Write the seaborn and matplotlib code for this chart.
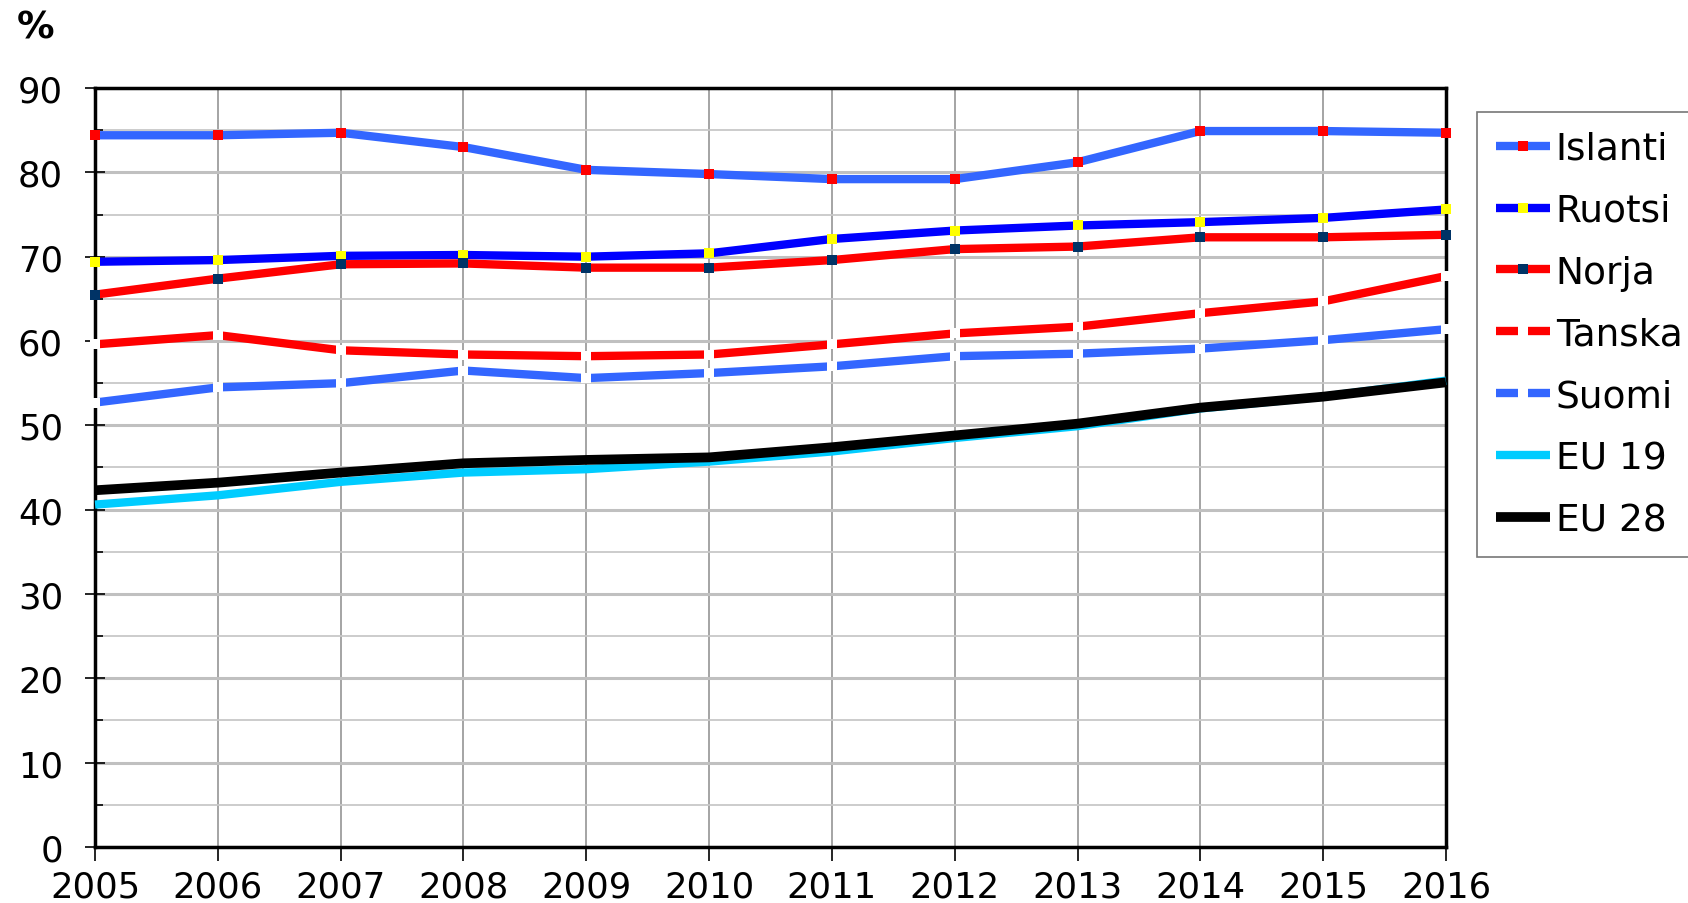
import numpy as np
import pandas as pd
import seaborn as sns
import matplotlib.pyplot as plt
from matplotlib.ticker import MultipleLocator

years = list(range(2005, 2017))

islanti = [84.4, 84.4, 84.7, 83.0, 80.3, 79.8, 79.2, 79.2, 81.2, 84.9, 84.9, 84.7]
ruotsi = [69.4, 69.6, 70.1, 70.2, 70.0, 70.4, 72.1, 73.1, 73.7, 74.1, 74.6, 75.6]
norja = [65.5, 67.4, 69.1, 69.2, 68.7, 68.7, 69.6, 70.9, 71.2, 72.3, 72.3, 72.6]
tanska = [59.6, 60.7, 58.9, 58.4, 58.2, 58.4, 59.6, 60.9, 61.7, 63.3, 64.7, 67.7]
suomi = [52.7, 54.5, 55.0, 56.5, 55.6, 56.2, 57.0, 58.2, 58.5, 59.1, 60.1, 61.4]
eu19 = [40.6, 41.7, 43.3, 44.4, 44.8, 45.7, 46.9, 48.5, 49.9, 52.0, 53.4, 55.3]
eu28 = [42.3, 43.2, 44.4, 45.5, 45.9, 46.2, 47.4, 48.8, 50.2, 52.1, 53.4, 55.1]

labels = ["Islanti", "Ruotsi", "Norja", "Tanska", "Suomi", "EU 19", "EU 28"]
values = [islanti, ruotsi, norja, tanska, suomi, eu19, eu28]

# line colour, marker colour (None = no marker), line width
styles = {
    "Islanti": ("#3366ff", "#ff0000", 6),
    "Ruotsi": ("#0000ff", "#ffff00", 6),
    "Norja": ("#ff0000", "#003366", 6),
    "Tanska": ("#ff0000", "#ffffff", 6),
    "Suomi": ("#3366ff", "#ffffff", 6),
    "EU 19": ("#00ccff", None, 6),
    "EU 28": ("#000000", None, 7),
}

sns.set_style("white")
plt.rcParams['font.family'] = ['DejaVu Sans']
plt.rcParams['text.color'] = 'black'
plt.rcParams['xtick.color'] = 'black'
plt.rcParams['ytick.color'] = 'black'

fig = plt.figure(figsize=(16.88, 9.04), dpi=100)
ax = fig.add_axes([0.0563, 0.062, 0.8003, 0.8395])

for lab, vals in zip(labels, values):
    line_col, mk_col, lw = styles[lab]
    kw = dict(color=line_col, linewidth=lw, solid_capstyle='butt', clip_on=False, zorder=3)
    if mk_col is not None:
        kw.update(marker='s', markersize=7, markerfacecolor=mk_col,
                  markeredgecolor=mk_col, markeredgewidth=0)
    sns.lineplot(x=years, y=vals, ax=ax, label=lab, **kw)

ax.set_xlim(2005, 2016)
ax.set_ylim(0, 90)
ax.set_xticks(years)
ax.yaxis.set_major_locator(MultipleLocator(10))
ax.yaxis.set_minor_locator(MultipleLocator(5))

ax.grid(axis='y', which='major', color='#c0c0c0', linewidth=2.2, zorder=0)
ax.grid(axis='y', which='minor', color='#c8c8c8', linewidth=1.3, zorder=0)
ax.grid(axis='x', which='major', color='#8c8c8c', linewidth=1.1, zorder=0)
ax.set_axisbelow(True)

for sp in ax.spines.values():
    sp.set_color('black')
    sp.set_linewidth(2.5)

ax.tick_params(axis='y', which='major', direction='inout', length=14, width=1.2,
               labelsize=25.5, pad=16, left=True)
ax.tick_params(axis='y', which='minor', direction='in', length=6, width=1.2, left=True)
ax.tick_params(axis='x', which='major', direction='out', length=10, width=1.2,
               labelsize=25.5, pad=6, bottom=True)

ax.set_xlabel("")
ax.set_ylabel("")

fig.text(0.021, 0.968, "%", fontsize=27, fontweight='bold', ha='center', va='center')

leg = ax.legend(loc='upper left', bbox_to_anchor=(0.875, 0.875),
                bbox_transform=fig.transFigure, fontsize=27, frameon=True,
                fancybox=False, edgecolor='#555555', handlelength=1.45,
                handletextpad=0.15, labelspacing=0.69, borderpad=0.5,
                borderaxespad=0)
leg.get_frame().set_linewidth(1.2)

fig.savefig("out.png", dpi=100)
